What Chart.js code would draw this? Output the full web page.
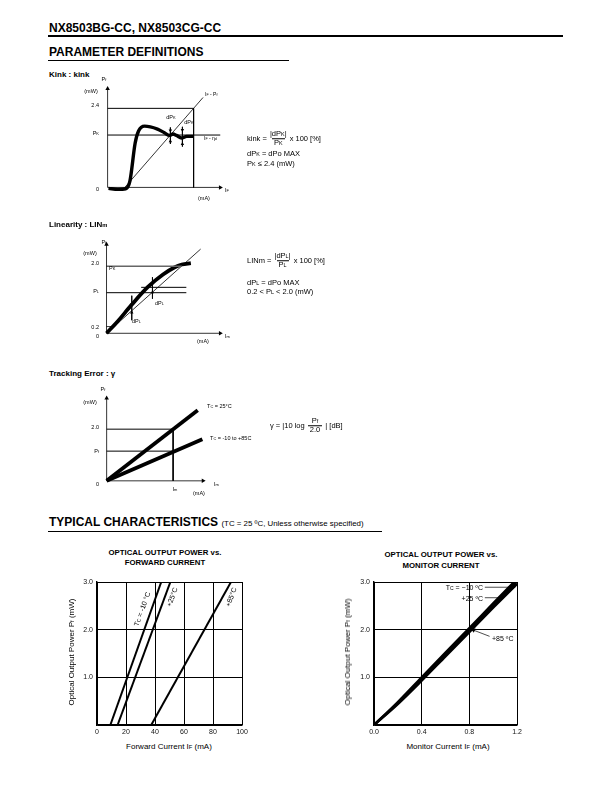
<!DOCTYPE html>
<html><head><meta charset="utf-8">
<script src="https://cdn.jsdelivr.net/npm/chart.js@4"></script>
<style>
body{margin:0;width:612px;height:792px;position:relative;background:#fff;font-family:"Liberation Sans",Arial,sans-serif;color:#000;overflow:hidden}
.t{position:absolute;white-space:nowrap;line-height:1;color:#000}
canvas{position:absolute}
.hr{position:absolute;background:#000}
.fr{display:inline-flex;flex-direction:column;align-items:center;vertical-align:middle;margin:0 1px;line-height:1.1}
.fr .d{border-top:0.8px solid #000;padding:0 2px}
.s{font-size:72%}
</style></head><body>
<script>
// ---------- data ----------
// Typical characteristics: Pf vs IF
const pfAxis = [0, 3.0];
const ifTcMinus10 = [9.2, 44.3];
const ifTc25 = [14.2, 50.6];
const ifTc85 = [37.4, 92.4];
const ifTicks = [0, 20, 40, 60, 80, 100];
// Typical characteristics: Pf vs Im
const imCurrent = [0, 0.2, 0.4, 0.6, 0.8, 1.0, 1.2];
const pfImMinus10 = [0, 0.48, 1.0, 1.52, 2.03, 2.55, 3.06];
const pfIm25 = [0, 0.46, 0.97, 1.48, 1.99, 2.50, 3.01];
const pfIm85 = [0, 0.44, 0.93, 1.44, 1.95, 2.46, 2.96];
const imTicks = [0, 0.4, 0.8, 1.2];
const pfTicks = [0, 1.0, 2.0, 3.0];
// Kink schematic
const kinkCurveI = [0.01, 0.12, 0.21, 0.26, 0.32, 0.36, 0.43, 0.58, 0.66, 0.72, 0.76, 0.80, 0.86, 0.92, 1.0];
const kinkCurveP = [-0.03, -0.06, -0.04, 0.2, 1.34, 1.71, 1.86, 1.77, 1.66, 1.58, 1.62, 1.58, 1.50, 1.55, 1.55];
const kinkLineI = [0.2, 1.11];
const kinkLineP = [0, 2.73];
const kinkLevels = {p24: 2.4, pk: 1.59};
// Linearity schematic
const linCurveI = [0, 0.15, 0.33, 0.55, 0.75, 0.9, 1.0, 1.12];
const linCurveP = [0, 0.36, 0.84, 1.38, 1.75, 1.96, 2.05, 2.09];
const linLineI = [0, 1.25];
const linLineP = [0, 2.51];
const linLevels = {p20: 2.0, pl: 1.21, pl2: 1.37, p02: 0.2};
// Tracking error schematic
const trk25I = [0, 1.37];
const trk25P = [0, 2.73];
const trkAllI = [0, 1.44];
const trkAllP = [0, 1.61];
const trkLevels = {p20: 2.0, pf: 1.15};

// ---------- helpers ----------
Chart.defaults.font.family = '"Liberation Sans", Arial, sans-serif';
function T(x, y, html, size, align, bold, extra){
  const d = document.createElement('div'); d.className = 't';
  d.innerHTML = html; d.style.left = x + 'px'; d.style.top = y + 'px'; d.style.fontSize = size + 'px';
  if (bold) d.style.fontWeight = 'bold';
  const tx = align === 'c' ? '-50%' : align === 'r' ? '-100%' : '0';
  d.style.transform = `translate(${tx},-50%) ${extra || ''}`;
  document.body.appendChild(d); return d;
}
function FR(n, d){ return `<span class="fr"><span class="n">${n}</span><span class="d">${d}</span></span>`; }
function HR(x, y, w, h){ const d = document.createElement('div'); d.className = 'hr';
  d.style.left = x + 'px'; d.style.top = y + 'px'; d.style.width = w + 'px'; d.style.height = h + 'px'; document.body.appendChild(d); }
function mk(left, top, w, h){ const c = document.createElement('canvas'); c.width = w; c.height = h;
  c.style.left = left + 'px'; c.style.top = top + 'px'; c.style.width = w + 'px'; c.style.height = h + 'px';
  document.body.appendChild(c); return c; }
function pts(xs, ys){ return xs.map((x, i) => ({x, y: ys[i]})); }
function seg(xs, ys, w, extra){ return Object.assign({data: pts(xs, ys), borderColor: '#000', borderWidth: w,
  pointRadius: 0, showLine: true, fill: false, tension: 0}, extra || {}); }
function arrow(xs, ys, rot, w){ const n = xs.length; const r = xs.map((_, i) => i === n - 1 ? 2.6 : 0);
  const ro = xs.map((_, i) => i === n - 1 ? rot : 0);
  return seg(xs, ys, w || 0.8, {pointRadius: r, pointStyle: 'triangle', pointRotation: ro,
    pointBackgroundColor: '#000', pointBorderColor: '#000', pointBorderWidth: 0}); }
function heads(xs, ys, rots){ return {data: pts(xs, ys), showLine: false, pointRadius: 2, pointStyle: 'triangle',
  pointRotation: rots, pointBackgroundColor: '#000', pointBorderColor: '#000', pointBorderWidth: 0}; }
function schem(canvas, xr, yr, datasets){
  new Chart(canvas, {type: 'scatter', data: {datasets}, options: {responsive: false, animation: false,
    devicePixelRatio: 1, events: [], layout: {padding: 0},
    plugins: {legend: {display: false}, tooltip: {enabled: false}},
    scales: {x: {type: 'linear', display: false, min: xr[0], max: xr[1]},
             y: {type: 'linear', display: false, min: yr[0], max: yr[1]}}}});
}
function mainChart(canvas, datasets, xt, xfmt, yw, padR){
  new Chart(canvas, {type: 'scatter', data: {datasets}, options: {responsive: false, animation: false,
    devicePixelRatio: 1, events: [], layout: {padding: {top: 10, right: padR, left: 0, bottom: 0}},
    plugins: {legend: {display: false}, tooltip: {enabled: false}},
    scales: {
      x: {type: 'linear', min: xt[0], max: xt[xt.length - 1],
          afterBuildTicks: s => { s.ticks = xt.map(v => ({value: v})); },
          ticks: {callback: xfmt, font: {size: 7}, color: '#111', padding: 3, maxRotation: 0, autoSkip: false},
          grid: {color: '#000', lineWidth: 1, drawTicks: false}, border: {color: '#000', width: 1.4},
          afterFit: s => { s.height = 12; }},
      y: {type: 'linear', min: pfTicks[0], max: pfTicks[pfTicks.length - 1],
          afterBuildTicks: s => { s.ticks = pfTicks.map(v => ({value: v})); },
          ticks: {callback: v => v === 0 ? '' : v.toFixed(1), font: {size: 7}, color: '#111', padding: 4},
          grid: {color: '#000', lineWidth: 1, drawTicks: false}, border: {color: '#000', width: 1.4},
          afterFit: s => { s.width = yw; }}
    }}});
}

// ---------- page header ----------
T(49, 28, 'NX8503BG-CC, NX8503CG-CC', 12, 'l', true);
HR(48, 35, 515, 2);
T(49, 52, 'PARAMETER DEFINITIONS', 12, 'l', true);
HR(48, 60, 241, 1);

// ---------- Kink ----------
T(49, 75, 'Kink : kink', 8, 'l', true);
schem(mk(95, 78, 137, 120), [-0.1, 1.4], [-0.2, 3.2], [
  arrow([0, 0], [0, 3.0], 0), arrow([0, 1.31], [0, 0], 90),
  seg([0, 1, 1], [kinkLevels.p24, kinkLevels.p24, 0], 1),
  seg([0, 1.31], [kinkLevels.pk, kinkLevels.pk], 1),
  seg(kinkLineI, kinkLineP, 0.8),
  seg([0.73, 0.73], [1.82, 1.32], 0.8), seg([0.87, 0.87], [1.84, 1.24], 0.8),
  heads([0.73, 0.73, 0.87, 0.87], [1.73, 1.40, 1.74, 1.32], [180, 0, 180, 0]),
  seg(kinkCurveI, kinkCurveP, 3.4, {cubicInterpolationMode: 'monotone'})
]);
T(104, 80, 'P<span class="s">f</span>', 5.5, 'c');
T(91, 92, '(mW)', 5.5, 'c');
T(99, 106, '2.4', 5.5, 'r');
T(99, 134, 'P<span class="s">K</span>', 5.5, 'r');
T(99, 190, '0', 5.5, 'r');
T(205, 95, 'I<span class="s">F</span> - P<span class="s">f</span>', 5, 'l');
T(204, 139, 'I<span class="s">F</span> - η<span class="s">d</span>', 5, 'l');
T(171, 118, 'dP<span class="s">K</span>', 5.5, 'c');
T(189, 123, 'dP<span class="s">K</span>', 5.5, 'c');
T(204, 199, '(mA)', 5.5, 'c');
T(225, 191, 'I<span class="s">F</span>', 5.5, 'l');
T(247, 139, 'kink = ' + FR('|dP<span class="s">K</span>|', 'P<span class="s">K</span>') + ' x 100 [%]', 7.5, 'l');
T(247, 154, 'dP<span class="s">K</span> = dPo MAX', 7.5, 'l');
T(247, 164, 'P<span class="s">K</span> ≤ 2.4 (mW)', 7.5, 'l');

// ---------- Linearity ----------
T(49, 225, 'Linearity : LIN<span class="s">m</span>', 8, 'l', true);
schem(mk(95, 232, 136, 112), [-0.1, 1.6], [-0.2, 2.9], [
  arrow([0, 0], [0, 2.65], 0), arrow([0, 1.51], [0, 0], 90),
  seg([0, 1.0], [linLevels.p20, linLevels.p20], 1.5, {borderColor: '#666'}),
  seg([0, 1.06], [linLevels.pl, linLevels.pl], 1),
  seg([0.46, 1.06], [linLevels.pl2, linLevels.pl2], 1),
  seg([0, 0.08], [linLevels.p02, linLevels.p02], 0.8),
  seg(linLineI, linLineP, 0.8),
  seg([0.335, 0.335], [1.12, 0.39], 0.8), seg([0.61, 0.61], [1.67, 1.03], 0.8),
  heads([0.335, 0.335, 0.61, 0.61], [0.86, 0.62, 1.48, 1.22], [180, 0, 180, 0]),
  seg(linCurveI, linCurveP, 3.8, {cubicInterpolationMode: 'monotone'})
]);
T(104, 243, 'P<span class="s">f</span>', 5.5, 'c');
T(90, 254, '(mW)', 5.5, 'c');
T(99, 264, '2.0', 5.5, 'r');
T(109, 269, 'P<span class="s">K</span>', 5.5, 'l');
T(99, 292, 'P<span class="s">L</span>', 5.5, 'r');
T(99, 328, '0.2', 5.5, 'r');
T(99, 337, '0', 5.5, 'r');
T(155, 304, 'dP<span class="s">L</span>', 5.5, 'l');
T(132, 322, 'dP<span class="s">L</span>', 5.5, 'l');
T(203, 342, '(mA)', 5.5, 'c');
T(225, 337, 'I<span class="s">m</span>', 5.5, 'l');
T(247, 261, 'LINm = ' + FR('|dP<span class="s">L</span>|', 'P<span class="s">L</span>') + ' x 100 [%]', 7.5, 'l');
T(247, 283, 'dP<span class="s">L</span> = dPo MAX', 7.5, 'l');
T(247, 292, '0.2 &lt; P<span class="s">L</span> &lt; 2.0 (mW)', 7.5, 'l');

// ---------- Tracking error ----------
T(49, 374, 'Tracking Error : γ', 8, 'l', true);
schem(mk(96, 389, 121, 101), [-0.1, 1.6], [-0.2, 3.4], [
  arrow([0, 0], [0, 3.2], 0), arrow([0, 1.45], [0, 0], 90),
  seg([0, 1, 1], [trkLevels.p20, trkLevels.p20, 0], 1),
  seg([0, 1], [trkLevels.pf, trkLevels.pf], 1),
  seg(trk25I, trk25P, 3.8),
  seg(trkAllI, trkAllP, 3.8)
]);
T(103, 390, 'P<span class="s">f</span>', 5.5, 'c');
T(90, 403, '(mW)', 5.5, 'c');
T(99, 428, '2.0', 5.5, 'r');
T(99, 452, 'P<span class="s">f</span>', 5.5, 'r');
T(99, 485, '0', 5.5, 'r');
T(175, 490, 'I<span class="s">m</span>', 5.5, 'c');
T(199, 494, '(mA)', 5.5, 'c');
T(214, 485, 'I<span class="s">m</span>', 5.5, 'l');
T(207, 407, 'T<span class="s">C</span> = 25°C', 5.5, 'l');
T(210, 439, 'T<span class="s">C</span> = -10 to +85C', 5.5, 'l');
T(270, 426, 'γ = |10 log ' + FR('P<span class="s">f</span>', '2.0') + ' | [dB]', 7.5, 'l');

// ---------- Typical characteristics ----------
T(49, 522, 'TYPICAL CHARACTERISTICS <span style="font-size:7.9px;font-weight:normal">(TC = 25 ºC, Unless otherwise specified)</span>', 12, 'l', true);
HR(48, 531, 334, 1);

// Left chart
T(165, 553, 'OPTICAL OUTPUT POWER vs.', 7.8, 'c', true);
T(165, 563, 'FORWARD CURRENT', 7.8, 'c', true);
mainChart(mk(62, 572, 190, 165), [
  seg(ifTcMinus10, pfAxis, 2), seg(ifTc25, pfAxis, 2), seg(ifTc85, pfAxis, 2)
], ifTicks, v => String(v), 35, 10);
T(72, 652, 'Optical Output Power P<span class="s">f</span> (mW)', 8, 'c', false, 'rotate(-90deg)');
T(169, 747, 'Forward Current I<span class="s">F</span> (mA)', 8, 'c');
T(142, 609, 'T<span class="s">C</span> = -10 °C', 7, 'c', false, 'rotate(-70deg)');
T(172, 597, '+25°C', 7, 'c', false, 'rotate(-70deg)');
T(231, 597, '+85°C', 7, 'c', false, 'rotate(-70deg)');

// Right chart
T(441, 555, 'OPTICAL OUTPUT POWER vs.', 7.8, 'c', true);
T(441, 566, 'MONITOR CURRENT', 7.8, 'c', true);
mainChart(mk(340, 572, 188, 165), [
  seg(imCurrent, pfIm85, 2.5, {cubicInterpolationMode: 'monotone'}),
  seg(imCurrent, pfIm25, 2.5, {cubicInterpolationMode: 'monotone'}),
  seg(imCurrent, pfImMinus10, 2.5, {cubicInterpolationMode: 'monotone'}),
  arrow([0.93, 1.165], [2.89, 2.89], 90, 0.7),
  arrow([0.93, 1.07], [2.67, 2.67], 90, 0.7),
  arrow([0.97, 0.835], [1.86, 1.99], 293, 0.7)
], imTicks, v => v.toFixed(1), 34, 11);
T(348, 652, 'Optical Output Power P<span class="s">f</span> (mW)', 8, 'c', false, 'rotate(-90deg)');
T(448, 747, 'Monitor Current I<span class="s">F</span> (mA)', 8, 'c');
T(483, 587.5, 'T<span class="s">C</span> = −10 ºC', 7, 'r');
T(483, 597.5, '+25 ºC', 7, 'r');
T(492, 637.5, '+85 ºC', 7, 'l');
</script>
</body></html>
